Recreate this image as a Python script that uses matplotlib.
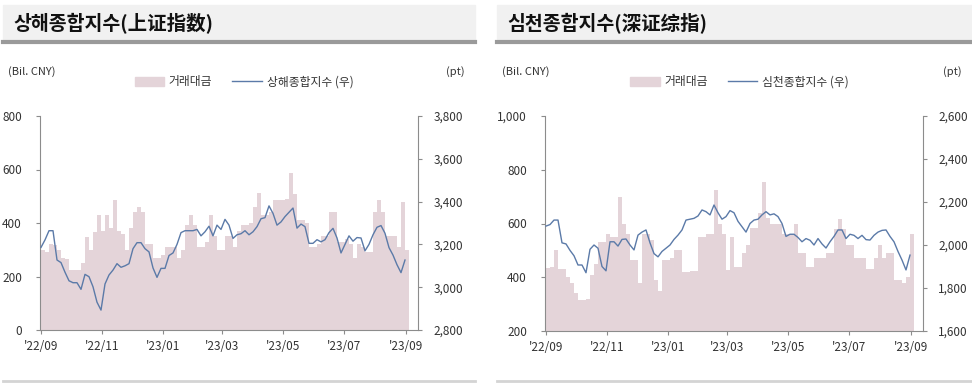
import matplotlib.pyplot as plt
import matplotlib.dates as mdates
from matplotlib.patches import Rectangle, Patch
from matplotlib.lines import Line2D
from matplotlib.ticker import FuncFormatter
import pandas as pd

plt.rcParams['font.family'] = ['Noto Sans CJK KR', 'DejaVu Sans']

###############
# data (every 4 calendar days from 2022-09-01)
###############

dates = pd.date_range('2022-09-01', periods=92, freq='4D')

sh_value = [300, 290, 320, 318, 300, 269, 265, 224, 224, 224,
            250, 349, 300, 367, 430, 370, 430, 380, 486, 370,
            360, 299, 380, 440, 460, 440, 320, 320, 269, 269,
            280, 310, 310, 310, 270, 300, 393, 430, 393, 310,
            310, 330, 430, 350, 300, 299, 350, 350, 310, 370,
            393, 393, 400, 460, 512, 430, 430, 440, 486, 486,
            486, 490, 587, 510, 411, 411, 400, 310, 310, 320,
            350, 350, 440, 440, 330, 330, 340, 320, 270, 320,
            310, 290, 290, 440, 486, 440, 350, 350, 350, 310,
            480, 300]

sh_index = [3186, 3221, 3264, 3264, 3127, 3115, 3070, 3030, 3021, 3021,
            2990, 3060, 3049, 3002, 2930, 2893, 3015, 3057, 3080, 3110,
            3093, 3100, 3110, 3180, 3208, 3208, 3180, 3165, 3090, 3046,
            3088, 3088, 3148, 3160, 3200, 3255, 3264, 3264, 3264, 3270,
            3240, 3259, 3285, 3240, 3290, 3270, 3317, 3290, 3228, 3245,
            3250, 3264, 3245, 3259, 3283, 3320, 3325, 3380, 3345, 3290,
            3305, 3330, 3350, 3370, 3276, 3295, 3283, 3205, 3205, 3222,
            3212, 3222, 3255, 3275, 3230, 3160, 3200, 3240, 3215, 3232,
            3230, 3170, 3200, 3245, 3280, 3288, 3252, 3185, 3150, 3105,
            3068, 3127]

sz_value = [433, 440, 501, 430, 430, 400, 378, 340, 315, 315,
            320, 410, 450, 531, 530, 560, 550, 550, 700, 600,
            560, 464, 464, 380, 560, 560, 540, 390, 350, 464,
            464, 470, 500, 500, 420, 420, 425, 425, 550, 550,
            560, 560, 725, 600, 560, 427, 548, 440, 440, 490,
            520, 583, 583, 640, 755, 620, 600, 600, 600, 560,
            560, 560, 600, 490, 490, 440, 440, 470, 470, 470,
            490, 490, 580, 615, 580, 520, 520, 470, 470, 470,
            430, 430, 470, 520, 470, 490, 490, 390, 390, 380,
            400, 560]

sz_index = [2088, 2095, 2116, 2116, 2010, 2005, 1975, 1950, 1907, 1907,
            1871, 1980, 2000, 1985, 1900, 1880, 2015, 2015, 1995, 2026,
            2028, 2000, 1977, 2046, 2060, 2070, 2010, 1960, 1945, 1970,
            1985, 2000, 2026, 2046, 2070, 2116, 2120, 2124, 2135, 2163,
            2155, 2140, 2186, 2150, 2120, 2132, 2160, 2150, 2110, 2085,
            2060, 2100, 2116, 2120, 2140, 2155, 2140, 2145, 2132, 2100,
            2040, 2050, 2050, 2035, 2015, 2030, 2022, 2000, 2030, 2005,
            1986, 2015, 2040, 2070, 2070, 2030, 2050, 2045, 2030, 2045,
            2025, 2023, 2045, 2060, 2068, 2070, 2040, 2015, 1970, 1930,
            1884, 1953]

tick_dates = pd.to_datetime(['2022-09-01', '2022-11-01', '2023-01-01', '2023-03-01',
                             '2023-05-01', '2023-07-01', '2023-09-01'])

panels = [
    dict(title='상해종합지수(上证指数)', name='상해종합지수 (우)',
         value=sh_value, index=sh_index,
         ylim=(0, 800), yticks=[0, 200, 400, 600, 800],
         y2lim=(2800, 3800), y2ticks=[2800, 3000, 3200, 3400, 3600, 3800],
         px0=3, px1=475, ax_l=40, ax_r=418, ax_b=330),
    dict(title='심천종합지수(深证综指)', name='심천종합지수 (우)',
         value=sz_value, index=sz_index,
         ylim=(200, 1000), yticks=[200, 400, 600, 800, 1000],
         y2lim=(1600, 2600), y2ticks=[1600, 1800, 2000, 2200, 2400, 2600],
         px0=497, px1=972, ax_l=545, ax_r=923, ax_b=331),
]

W, H = 972, 387
bar_color = '#e4d4d9'
line_color = '#5b7aa8'
spine_color = '#8c8c8c'
text_color = '#333333'

fig = plt.figure(figsize=(W / 100, H / 100), dpi=100)
fmt = FuncFormatter(lambda v, p: f'{v:,.0f}')

for p in panels:
    # title band
    fig.patches.append(Rectangle((p['px0'] / W, 1 - 41 / H), (p['px1'] - p['px0']) / W, 36 / H,
                                 transform=fig.transFigure, color='#f1f1f1', zorder=0))
    fig.lines.append(Line2D([p['px0'] / W, p['px1'] / W], [1 - 42 / H, 1 - 42 / H],
                            transform=fig.transFigure, color='#9a9a9a', lw=3))
    fig.lines.append(Line2D([p['px0'] / W, p['px1'] / W], [1 - 381 / H, 1 - 381 / H],
                            transform=fig.transFigure, color='#d4d4d4', lw=2))
    fig.text((p['px0'] + 10) / W, 1 - 24 / H, p['title'], fontsize=14, fontweight='bold',
             va='center', ha='left', color='#111111')

    fig.text((p['px0'] + 5) / W, 1 - 72 / H, '(Bil. CNY)', fontsize=8, color=text_color,
             va='center', ha='left')
    fig.text((p['px1'] - 10) / W, 1 - 72 / H, '(pt)', fontsize=8, color=text_color,
             va='center', ha='right')

    ax = fig.add_axes([p['ax_l'] / W, 1 - p['ax_b'] / H,
                       (p['ax_r'] - p['ax_l']) / W, (p['ax_b'] - 116) / H])
    ax.bar(dates, p['value'], width=4, align='edge', color=bar_color, linewidth=0,
           bottom=0)
    ax.set_ylim(*p['ylim'])
    ax.set_yticks(p['yticks'])
    ax.yaxis.set_major_formatter(fmt)
    ax.set_xlim(pd.Timestamp('2022-08-31'), pd.Timestamp('2023-09-13'))
    ax.set_xticks(tick_dates)
    ax.xaxis.set_major_formatter(mdates.DateFormatter("'%y/%m"))

    ax2 = ax.twinx()
    ax2.plot(dates, p['index'], color=line_color, lw=1.0)
    ax2.set_ylim(*p['y2lim'])
    ax2.set_yticks(p['y2ticks'])
    ax2.yaxis.set_major_formatter(fmt)

    for a in (ax, ax2):
        a.spines['top'].set_visible(False)
        for s in ('left', 'right', 'bottom'):
            a.spines[s].set_color(spine_color)
        a.tick_params(colors=spine_color, labelcolor=text_color, labelsize=8.5,
                      length=3, width=0.8)
    ax.spines['right'].set_visible(False)
    ax2.spines['left'].set_visible(False)
    ax2.spines['bottom'].set_visible(False)
    ax.tick_params(axis='y', pad=10)
    ax.tick_params(axis='x', pad=4)
    ax2.tick_params(axis='y', pad=8)

    handles = [Patch(color=bar_color, label='거래대금'),
               Line2D([], [], color=line_color, lw=1, label=p['name'])]
    cx = (p['px0'] + p['px1']) / 2 / W + 5 / W
    fig.legend(handles=handles, ncol=2, frameon=False, fontsize=8.5,
               loc='center', bbox_to_anchor=(cx, 1 - 82 / H),
               handlelength=2.5, handleheight=0.7, handletextpad=0.4,
               columnspacing=1.7, labelcolor=text_color)

plt.savefig('out.png', dpi=100)
